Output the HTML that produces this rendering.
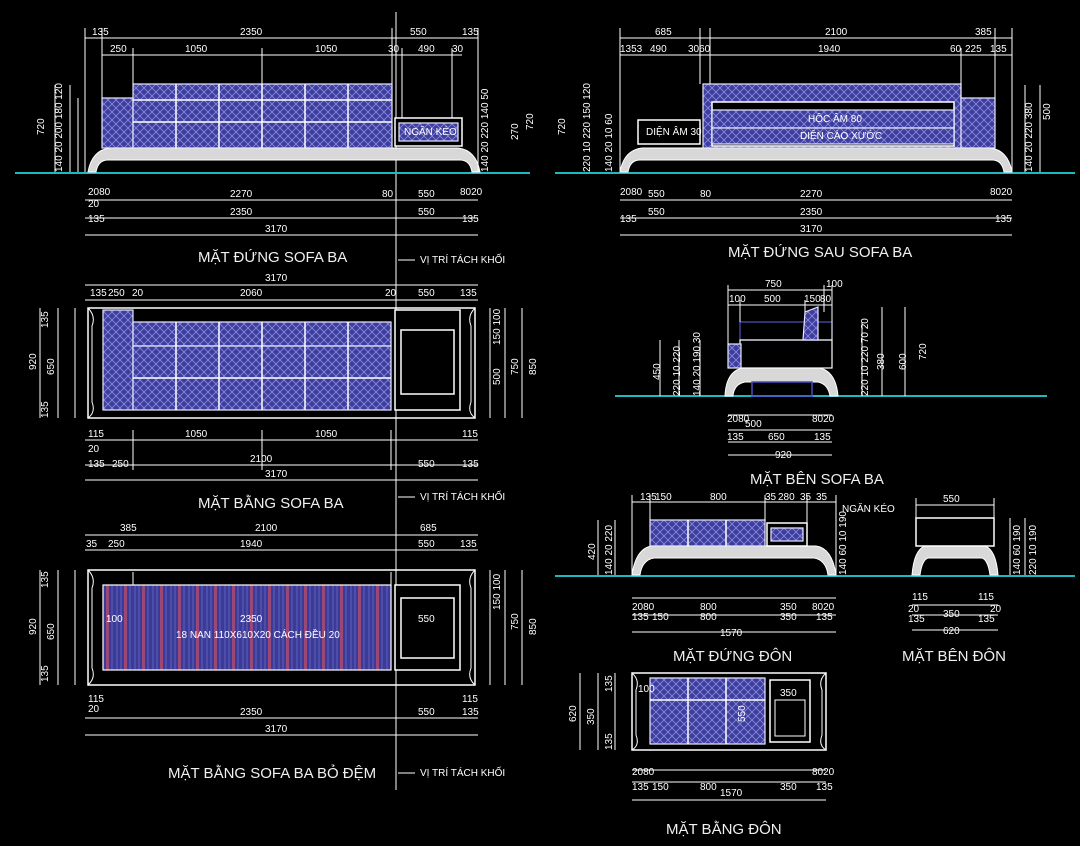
<!DOCTYPE html>
<html><head><meta charset="utf-8"><style>
html,body{margin:0;padding:0;background:#000;width:1080px;height:846px;overflow:hidden}
svg{display:block}
text{font-family:"Liberation Sans",sans-serif;fill:#fff;font-size:10px}
.t{font-size:15px;fill:#f0f0f0}
.d{stroke:#fff;stroke-width:1;fill:none}
.w{stroke:#fff;stroke-width:1.5;fill:none}
.g{stroke:#1fb7c0;stroke-width:2}
.b{fill:url(#h);stroke:#e8e8ff;stroke-width:1.2}
.base{fill:#d8d8d8;stroke:#fff;stroke-width:1}
.r{fill:#f33}
</style></head><body>
<svg width="1080" height="846" viewBox="0 0 1080 846" xmlns="http://www.w3.org/2000/svg">
<defs>
<pattern id="h" width="8" height="8" patternUnits="userSpaceOnUse">
<rect width="8" height="8" fill="#3d3d9c"/>
<path d="M0 0L8 8M8 0L0 8" stroke="#8a8adf" stroke-width="0.8"/>
</pattern>
<pattern id="s" width="18" height="10" patternUnits="userSpaceOnUse">
<rect width="18" height="10" fill="#3a3a98"/>
<path d="M0 0V10M17 0V10" stroke="#f55" stroke-width="1"/>
<path d="M4 0V10M9 0V10M13 0V10" stroke="#7a7ad0" stroke-width="0.6"/>
</pattern>
</defs>

<!-- split line -->
<line x1="396" y1="12" x2="396" y2="790" class="d"/>
<g font-size="9">
<line x1="398" y1="260" x2="415" y2="260" class="d"/><text x="420" y="263">VỊ TRÍ TÁCH KHỐI</text>
<line x1="398" y1="497" x2="415" y2="497" class="d"/><text x="420" y="500">VỊ TRÍ TÁCH KHỐI</text>
<line x1="398" y1="773" x2="415" y2="773" class="d"/><text x="420" y="776">VỊ TRÍ TÁCH KHỐI</text>
</g>

<!-- ===== MAT DUNG SOFA BA ===== -->
<line x1="15" y1="173" x2="530" y2="173" class="g"/>
<path d="M88 172 Q92 150 110 148 H458 Q476 150 480 172 H472 Q470 160 460 160 H108 Q98 160 96 172Z" class="base"/>
<rect x="102" y="98" width="31" height="50" class="b"/>
<rect x="133" y="84" width="259" height="64" class="b"/>
<path d="M176 84V148M219 84V148M262 84V148M305 84V148M348 84V148M133 100H392M133 122H392" class="w"/>
<rect x="395" y="118" width="67" height="28" fill="#000" stroke="#fff" stroke-width="1.5"/>
<rect x="399" y="123" width="59" height="18" class="b"/>
<text x="404" y="135" font-size="8">NGĂN KÉO</text>
<g class="d">
<path d="M85 38H478M102 55H462M85 200H478M85 218H478M85 235H478"/>
<path d="M85 28V172M102 28V98M133 48V84M262 48V84M392 28V84M402 48V118M452 48V118M478 28V172"/>
<path d="M55 85V172M70 85V172M78 98V172"/>
</g>
<text x="92" y="35">135</text><text x="240" y="35">2350</text><text x="410" y="35">550</text><text x="462" y="35">135</text>
<text x="110" y="52">250</text><text x="185" y="52">1050</text><text x="315" y="52">1050</text><text x="388" y="52">30</text><text x="418" y="52">490</text><text x="452" y="52">30</text>
<text x="88" y="195">2080</text><text x="230" y="197">2270</text><text x="382" y="197">80</text><text x="418" y="197">550</text><text x="460" y="195">8020</text>
<text x="88" y="207">20</text><text x="88" y="222">135</text><text x="230" y="215">2350</text><text x="418" y="215">550</text><text x="462" y="222">135</text>
<text x="265" y="232">3170</text>
<g font-size="9">
<text transform="translate(44 135) rotate(-90)">720</text>
<text transform="translate(62 172) rotate(-90)">140 20 200 180 120</text>
<text transform="translate(488 172) rotate(-90)">140 20 220 140 50</text>
<text transform="translate(518 140) rotate(-90)">270</text>
<text transform="translate(533 130) rotate(-90)">720</text>
</g>
<text x="198" y="262" class="t">MẶT ĐỨNG SOFA BA</text>

<!-- ===== MAT DUNG SAU SOFA BA ===== -->
<line x1="555" y1="173" x2="1075" y2="173" class="g"/>
<path d="M620 172 Q624 150 642 148 H990 Q1008 150 1012 172 H1004 Q1002 160 992 160 H640 Q630 160 628 172Z" class="base"/>
<rect x="703" y="84" width="258" height="64" class="b"/>
<rect x="961" y="98" width="34" height="50" class="b"/>
<rect x="712" y="102" width="242" height="44" fill="#000" stroke="#fff" stroke-width="1.5"/>
<rect x="712" y="110" width="242" height="18" class="b"/>
<text x="808" y="122" font-size="8">HỘC ÂM 80</text>
<rect x="712" y="128" width="242" height="16" class="b"/>
<text x="800" y="139" font-size="8">DIỆN CÀO XƯỚC</text>
<rect x="638" y="120" width="62" height="24" fill="#000" stroke="#fff" stroke-width="1.5"/>
<text x="646" y="135" font-size="8">DIỆN ÂM 30</text>
<g class="d">
<path d="M620 38H1012M620 55H1012M620 200H1012M620 218H1012M620 235H1012"/>
<path d="M620 28V172M700 28V84M710 28V84M961 48V98M995 28V98M1012 28V172M1025 85V172M1040 85V172"/>
</g>
<text x="655" y="35">685</text><text x="825" y="35">2100</text><text x="975" y="35">385</text>
<text x="620" y="52">1353</text><text x="650" y="52">490</text><text x="688" y="52">3060</text><text x="818" y="52">1940</text><text x="950" y="52">60</text><text x="965" y="52">225</text><text x="990" y="52">135</text>
<text x="620" y="195">2080</text><text x="648" y="197">550</text><text x="700" y="197">80</text><text x="800" y="197">2270</text><text x="990" y="195">8020</text>
<text x="620" y="222">135</text><text x="648" y="215">550</text><text x="800" y="215">2350</text><text x="995" y="222">135</text>
<text x="800" y="232">3170</text>
<g font-size="9">
<text transform="translate(565 135) rotate(-90)">720</text>
<text transform="translate(590 172) rotate(-90)">220 10 220 150 120</text>
<text transform="translate(612 172) rotate(-90)">140 20 10 60</text>
<text transform="translate(1032 172) rotate(-90)">140 20 220 380</text>
<text transform="translate(1050 120) rotate(-90)">500</text>
</g>
<text x="728" y="257" class="t">MẶT ĐỨNG SAU SOFA BA</text>

<!-- ===== MAT BANG SOFA BA ===== -->
<path d="M88 308 H475 V418 H88Z" fill="none" stroke="#fff" stroke-width="1.5"/>
<path d="M88 308 Q96 316 92 326 V402 Q96 412 88 418M475 308 Q467 316 471 326 V402 Q467 412 475 418" class="d"/>
<rect x="103" y="310" width="30" height="100" class="b"/>
<rect x="133" y="322" width="258" height="24" class="b"/>
<rect x="133" y="346" width="258" height="64" class="b"/>
<path d="M176 322V410M219 322V410M262 322V410M305 322V410M348 322V410M133 378H391" class="w"/>
<rect x="395" y="310" width="65" height="100" fill="#000" stroke="#fff" stroke-width="1.5"/>
<rect x="401" y="330" width="53" height="64" fill="#000" stroke="#fff" stroke-width="1.5"/>
<g class="d">
<path d="M85 285H478M85 300H478M85 440H478M85 465H478M85 480H478"/>
<path d="M40 308V418M58 308V418M75 308V418M490 308V418M505 308V418M522 308V418"/>
<path d="M133 430V470M262 430V470M391 430V470"/>
</g>
<text x="265" y="281">3170</text>
<text x="90" y="296">135</text><text x="108" y="296">250</text><text x="132" y="296">20</text><text x="240" y="296">2060</text><text x="385" y="296">20</text><text x="418" y="296">550</text><text x="460" y="296">135</text>
<text x="88" y="437">115</text><text x="185" y="437">1050</text><text x="315" y="437">1050</text><text x="462" y="437">115</text>
<text x="88" y="452">20</text><text x="88" y="467">135</text><text x="112" y="467">250</text><text x="250" y="462">2100</text><text x="418" y="467">550</text><text x="462" y="467">135</text>
<text x="265" y="477">3170</text>
<g font-size="9">
<text transform="translate(36 370) rotate(-90)">920</text><text transform="translate(54 375) rotate(-90)">650</text>
<text transform="translate(48 328) rotate(-90)">135</text><text transform="translate(48 418) rotate(-90)">135</text>
<text transform="translate(500 345) rotate(-90)">150 100</text><text transform="translate(500 385) rotate(-90)">500</text>
<text transform="translate(518 375) rotate(-90)">750</text><text transform="translate(536 375) rotate(-90)">850</text>
</g>
<text x="198" y="508" class="t">MẶT BẰNG SOFA BA</text>

<!-- ===== MAT BEN SOFA BA ===== -->
<line x1="615" y1="396" x2="1047" y2="396" class="g"/>
<path d="M725 396 Q726 372 742 368 H820 Q836 372 838 396 H830 Q828 384 818 382 H745 Q734 384 733 396Z" class="base"/>
<rect x="752" y="382" width="60" height="14" fill="none" stroke="#4a4ac0" stroke-width="1.5"/>
<rect x="740" y="322" width="92" height="18" fill="none" stroke="#5050c0" stroke-width="1.2"/>
<rect x="740" y="340" width="92" height="28" fill="none" stroke="#fff" stroke-width="1.2"/>
<path d="M805 312 L818 307 V340 H803Z" class="b"/>
<rect x="728" y="344" width="13" height="24" class="b"/>
<g class="d">
<path d="M728 290H832M728 305H832M728 415H832M728 430H832M728 442H832M728 455H832"/>
<path d="M728 285V345M740 300V322M805 300V312M824 285V312M832 285V345"/>
<path d="M660 340V396M679 340V396M700 340V396M862 322V396M882 307V396M905 307V396"/>
</g>
<text x="765" y="287">750</text><text x="826" y="287">100</text>
<text x="729" y="302">100</text><text x="764" y="302">500</text><text x="804" y="302">150</text><text x="820" y="302">80</text>
<text x="745" y="427">500</text><text x="727" y="422">2080</text><text x="812" y="422">8020</text>
<text x="727" y="440">135</text><text x="768" y="440">650</text><text x="814" y="440">135</text>
<text x="775" y="458">920</text>
<g font-size="9">
<text transform="translate(660 380) rotate(-90)">450</text>
<text transform="translate(680 396) rotate(-90)">220 10 220</text>
<text transform="translate(700 396) rotate(-90)">140 20 190 30</text>
<text transform="translate(868 396) rotate(-90)">220 10 220 70 20</text>
<text transform="translate(884 370) rotate(-90)">380</text>
<text transform="translate(906 370) rotate(-90)">600</text>
<text transform="translate(926 360) rotate(-90)">720</text>
</g>
<text x="750" y="484" class="t">MẶT BÊN SOFA BA</text>

<!-- ===== MAT BANG SOFA BA BO DEM ===== -->
<path d="M88 570 H475 V685 H88Z" fill="none" stroke="#fff" stroke-width="1.5"/>
<path d="M88 570 Q96 578 92 588 V668 Q96 678 88 685M475 570 Q467 578 471 588 V668 Q467 678 475 685" class="d"/>
<rect x="103" y="585" width="288" height="85" fill="url(#s)" stroke="#fff" stroke-width="1.2"/>
<path d="M133 572 V585 H391 V572" class="d"/>
<rect x="395" y="585" width="65" height="85" fill="#000" stroke="#fff" stroke-width="1.5"/>
<rect x="401" y="598" width="53" height="60" fill="#000" stroke="#fff" stroke-width="1.5"/>
<text x="176" y="638" font-size="9">18 NAN 110X610X20 CÁCH ĐỀU 20</text>
<text x="240" y="622" font-size="9">2350</text><text x="418" y="622">550</text>
<text x="106" y="622" font-size="9">100</text>
<g class="d">
<path d="M85 535H478M85 550H478M85 718H478M85 735H478"/>
<path d="M40 570V685M58 570V685M75 570V685M490 570V685M505 570V685M522 570V685"/>
</g>
<text x="120" y="531">385</text><text x="255" y="531">2100</text><text x="420" y="531">685</text>
<text x="86" y="547">35</text><text x="108" y="547">250</text><text x="240" y="547">1940</text><text x="418" y="547">550</text><text x="460" y="547">135</text>
<text x="88" y="702">115</text><text x="88" y="712">20</text><text x="462" y="702">115</text>
<text x="240" y="715">2350</text><text x="418" y="715">550</text><text x="462" y="715">135</text>
<text x="265" y="732">3170</text>
<g font-size="9">
<text transform="translate(36 635) rotate(-90)">920</text><text transform="translate(54 640) rotate(-90)">650</text>
<text transform="translate(48 588) rotate(-90)">135</text><text transform="translate(48 682) rotate(-90)">135</text>
<text transform="translate(500 610) rotate(-90)">150 100</text><text transform="translate(518 630) rotate(-90)">750</text><text transform="translate(536 635) rotate(-90)">850</text>
</g>
<text x="168" y="778" class="t">MẶT BẰNG SOFA BA BỎ ĐỆM</text>

<!-- ===== MAT DUNG DON ===== -->
<line x1="555" y1="576" x2="1075" y2="576" class="g"/>
<path d="M632 575 Q636 548 652 546 H816 Q832 548 836 575 H828 Q826 560 814 558 H654 Q642 560 640 575Z" class="base"/>
<rect x="650" y="520" width="115" height="26" class="b"/>
<path d="M688 520V546M726 520V546" class="w"/>
<rect x="767" y="523" width="40" height="23" fill="#000" stroke="#fff" stroke-width="1.5"/>
<rect x="771" y="528" width="32" height="13" class="b"/>
<g class="d">
<path d="M632 502H836M632 598H836M632 615H836M632 632H836"/>
<path d="M632 495V575M650 495V520M765 495V520M807 495V523M836 495V575M598 520V575M615 520V575"/>
</g>
<text x="640" y="500">135</text><text x="655" y="500">150</text><text x="710" y="500">800</text><text x="765" y="500">35</text><text x="778" y="500">280</text><text x="800" y="500">35</text><text x="816" y="500">35</text>
<text x="842" y="512">NGĂN KÉO</text>
<text x="632" y="610">2080</text><text x="700" y="610">800</text><text x="780" y="610">350</text><text x="812" y="610">8020</text>
<text x="632" y="620">135</text><text x="652" y="620">150</text><text x="700" y="620">800</text><text x="780" y="620">350</text><text x="816" y="620">135</text>
<text x="720" y="636">1570</text>
<g font-size="9">
<text transform="translate(595 560) rotate(-90)">420</text>
<text transform="translate(612 575) rotate(-90)">140 20 220</text>
<text transform="translate(846 575) rotate(-90)">140 60 10 190</text>
</g>
<text x="673" y="661" class="t">MẶT ĐỨNG ĐÔN</text>

<!-- ===== MAT BEN DON ===== -->
<path d="M912 575 Q914 550 925 546 H985 Q996 550 998 575 H990 Q988 560 982 558 H928 Q922 560 920 575Z" class="base"/>
<rect x="916" y="518" width="78" height="28" fill="#000" stroke="#fff" stroke-width="1.5"/>
<g class="d">
<path d="M916 505H994M912 605H998M912 615H998M912 630H998"/>
<path d="M916 498V518M994 498V518M1010 518V575M1025 518V575"/>
</g>
<text x="943" y="502">550</text>
<text x="912" y="600">115</text><text x="978" y="600">115</text>
<text x="908" y="612">20</text><text x="943" y="617">350</text><text x="990" y="612">20</text>
<text x="908" y="622">135</text><text x="978" y="622">135</text>
<text x="943" y="634">620</text>
<g font-size="9">
<text transform="translate(1020 575) rotate(-90)">140 60 190</text>
<text transform="translate(1036 575) rotate(-90)">220 10 190</text>
</g>
<text x="902" y="661" class="t">MẶT BÊN ĐÔN</text>

<!-- ===== MAT BANG DON ===== -->
<path d="M632 673 H826 V750 H632Z" fill="none" stroke="#fff" stroke-width="1.5"/>
<path d="M632 673 Q640 680 636 690 V735 Q640 745 632 750M826 673 Q818 680 822 690 V735 Q818 745 826 750" class="d"/>
<rect x="650" y="678" width="115" height="66" class="b"/>
<path d="M688 678V744M726 678V744M650 700H765" class="w"/>
<rect x="770" y="680" width="40" height="62" fill="#000" stroke="#fff" stroke-width="1.5"/>
<rect x="775" y="700" width="30" height="36" fill="#000" stroke="#fff" stroke-width="1"/>
<g class="d">
<path d="M632 770H826M632 782H826M632 800H826"/>
<path d="M580 673V750M598 673V750M615 673V750"/>
</g>
<text x="638" y="692">100</text><text x="780" y="696">350</text>
<text x="632" y="775">2080</text><text x="812" y="775">8020</text>
<text x="632" y="790">135</text><text x="652" y="790">150</text><text x="700" y="790">800</text><text x="780" y="790">350</text><text x="816" y="790">135</text>
<text x="720" y="796">1570</text>
<g font-size="9">
<text transform="translate(576 722) rotate(-90)">620</text>
<text transform="translate(594 725) rotate(-90)">350</text>
<text transform="translate(612 692) rotate(-90)">135</text>
<text transform="translate(612 750) rotate(-90)">135</text>
<text transform="translate(745 722) rotate(-90)">550</text>
</g>
<text x="666" y="834" class="t">MẶT BẰNG ĐÔN</text>
</svg>
</body></html>
